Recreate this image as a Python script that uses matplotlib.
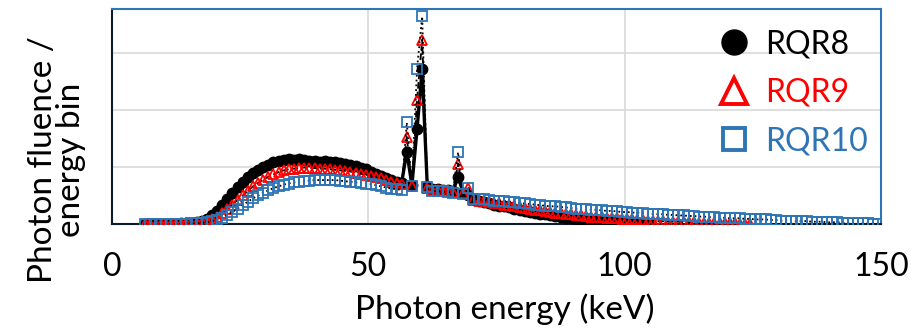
import numpy as np
import matplotlib
matplotlib.use("Agg")
import matplotlib.pyplot as plt
from matplotlib.lines import Line2D

plt.rcParams['font.family'] = ['Lato', 'DejaVu Sans']

# photon energy bins (keV), 1 keV wide, centres
energy_rqr8 = np.arange(6.5, 105.0, 1.0)
energy_rqr9 = np.arange(6.5, 125.0, 1.0)
energy_rqr10 = np.arange(6.5, 150.0, 1.0)

# fluence per energy bin (arbitrary units)
rqr8 = [0, 0, 0, 0, 0, 0, 0, 0.01, 0.01, 0.02,
        0.03, 0.05, 0.09, 0.15, 0.23, 0.33, 0.44, 0.55, 0.65, 0.74,
        0.82, 0.89, 0.95, 1.00, 1.04, 1.08, 1.11, 1.12, 1.14, 1.13,
        1.14, 1.12, 1.11, 1.10, 1.09, 1.10, 1.09, 1.08, 1.07, 1.05,
        1.04, 1.01, 0.98, 0.96, 0.92, 0.88, 0.84, 0.80, 0.77, 0.74,
        0.72, 1.27, 0.68, 1.66, 2.71, 0.66, 0.62, 0.61, 0.60, 0.59,
        0.57, 0.83, 0.55, 0.50, 0.43, 0.40, 0.38, 0.36, 0.34, 0.32,
        0.31, 0.29, 0.27, 0.25, 0.23, 0.21, 0.20, 0.18, 0.17, 0.15,
        0.14, 0.13, 0.11, 0.10, 0.09, 0.08, 0.07, 0.07, 0.06, 0.05,
        0.04, 0.04, 0.03, 0.03, 0.02, 0.02, 0.01, 0.01, 0.00]

rqr9 = [0, 0, 0, 0, 0, 0, 0, 0, 0.01, 0.01,
        0.02, 0.03, 0.05, 0.08, 0.13, 0.19, 0.26, 0.34, 0.42, 0.50,
        0.58, 0.66, 0.72, 0.78, 0.83, 0.87, 0.91, 0.94, 0.96, 0.97,
        0.98, 0.99, 0.98, 0.98, 0.97, 0.97, 0.96, 0.95, 0.94, 0.93,
        0.92, 0.90, 0.88, 0.86, 0.84, 0.82, 0.80, 0.77, 0.74, 0.72,
        0.70, 1.53, 0.67, 2.18, 3.23, 0.64, 0.60, 0.59, 0.58, 0.57,
        0.56, 1.06, 0.54, 0.63, 0.42, 0.41, 0.40, 0.38, 0.37, 0.36,
        0.34, 0.33, 0.31, 0.30, 0.28, 0.27, 0.25, 0.24, 0.22, 0.21,
        0.20, 0.19, 0.18, 0.17, 0.16, 0.15, 0.14, 0.13, 0.12, 0.12,
        0.11, 0.10, 0.10, 0.09, 0.08, 0.08, 0.07, 0.07, 0.06, 0.06,
        0.05, 0.05, 0.04, 0.04, 0.04, 0.03, 0.03, 0.03, 0.02, 0.02,
        0.02, 0.02, 0.01, 0.01, 0.01, 0.01, 0.00, 0.00, 0.00]

rqr10 = [0, 0, 0, 0, 0, 0, 0, 0, 0, 0.01,
         0.01, 0.02, 0.03, 0.05, 0.07, 0.11, 0.16, 0.21, 0.27, 0.33,
         0.39, 0.45, 0.50, 0.55, 0.59, 0.63, 0.66, 0.69, 0.71, 0.73,
         0.74, 0.75, 0.76, 0.77, 0.77, 0.77, 0.77, 0.77, 0.76, 0.75,
         0.74, 0.73, 0.72, 0.71, 0.70, 0.68, 0.66, 0.64, 0.62, 0.61,
         0.60, 1.78, 0.67, 2.72, 3.64, 0.65, 0.58, 0.57, 0.57, 0.56,
         0.55, 1.26, 0.53, 0.64, 0.44, 0.43, 0.43, 0.42, 0.41, 0.40,
         0.40, 0.39, 0.38, 0.37, 0.36, 0.35, 0.34, 0.33, 0.32, 0.31,
         0.31, 0.30, 0.29, 0.28, 0.27, 0.27, 0.26, 0.25, 0.25, 0.24,
         0.23, 0.23, 0.22, 0.21, 0.21, 0.20, 0.20, 0.19, 0.18, 0.18,
         0.17, 0.17, 0.16, 0.16, 0.15, 0.15, 0.14, 0.14, 0.13, 0.13,
         0.12, 0.12, 0.11, 0.11, 0.10, 0.10, 0.10, 0.09, 0.09, 0.08,
         0.08, 0.08, 0.07, 0.07, 0.06, 0.06, 0.06, 0.05, 0.05, 0.05,
         0.04, 0.04, 0.04, 0.03, 0.03, 0.03, 0.02, 0.02, 0.02, 0.01,
         0.01, 0.01, 0.00, 0.00]

labels = ['RQR8', 'RQR9', 'RQR10']
x_ticks = [0, 50, 100, 150]

BLUE = '#2E75B6'
RED = '#FF0000'

fig = plt.figure(figsize=(9.24, 3.31), dpi=100)
ax = fig.add_axes([112 / 924, 1 - 224 / 331, 769 / 924, 215 / 331])

ax.plot(energy_rqr8, rqr8, color='black', linewidth=2.4, marker='o',
        markersize=7.5, markerfacecolor='black', markeredgecolor='black', zorder=3)
ax.plot(energy_rqr9, rqr9, color='black', linewidth=1.3, linestyle='--',
        marker='^', markersize=7.5, markerfacecolor='none',
        markeredgecolor=RED, markeredgewidth=1.3, zorder=4)
ax.plot(energy_rqr10, rqr10, color='black', linewidth=1.3, linestyle=':',
        marker='s', markersize=6.5, markerfacecolor='none',
        markeredgecolor=BLUE, markeredgewidth=1.3, zorder=5)

ax.set_xlim(0, 150)
ax.set_ylim(0, 3.77)
ax.set_xticks(x_ticks)
ax.set_yticks([1, 2, 3])
ax.set_yticklabels([])
ax.grid(True, color='#D9D9D9', linewidth=1.2)
ax.set_axisbelow(True)
ax.tick_params(axis='both', length=0, labelsize=23, pad=20)

ax.spines['top'].set_color(BLUE)
ax.spines['right'].set_color(BLUE)
ax.spines['left'].set_color('#0d1b2a')
ax.spines['bottom'].set_color('#0d1b2a')
for s in ax.spines.values():
    s.set_linewidth(1.5)

fig.text(505 / 924, 1 - 309 / 331, 'Photon energy (keV)', fontsize=24,
         ha='center', va='center')
fig.text(57 / 924, 1 - 160 / 331, 'Photon fluence /\nenergy bin', fontsize=24,
         ha='center', va='center', rotation=90, linespacing=0.95)

handles = [
    Line2D([], [], linestyle='none', marker='o', markersize=18,
           markerfacecolor='black', markeredgecolor='black'),
    Line2D([], [], linestyle='none', marker='^', markersize=19,
           markerfacecolor='none', markeredgecolor=RED, markeredgewidth=2.8),
    Line2D([], [], linestyle='none', marker='s', markersize=16,
           markerfacecolor='none', markeredgecolor=BLUE, markeredgewidth=2.8),
]
leg = ax.legend(handles, labels, loc='upper right', bbox_to_anchor=(1.0, 0.965),
                frameon=False, fontsize=23, labelcolor=['black', RED, BLUE],
                handlelength=1.2, handletextpad=0.4, labelspacing=0.58,
                borderaxespad=0.0)

fig.savefig('out.png', dpi=100)
